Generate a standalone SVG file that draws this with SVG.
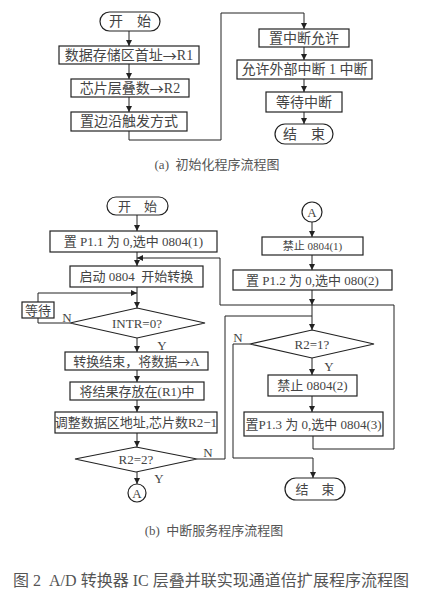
<svg xmlns="http://www.w3.org/2000/svg" width="423" height="603" viewBox="0 0 423 603">
<style>
.box{fill:#fff;stroke:#222;stroke-width:1.2}
.ln{fill:none;stroke:#222;stroke-width:1}
.t{font-family:"Liberation Serif","Noto Sans CJK SC",serif;fill:#444;text-anchor:middle;dominant-baseline:central;white-space:pre}
.s14{font-size:14px}
.s13{font-size:13px}
.s11{font-size:11px}
.arw{font-family:"Noto Sans CJK SC",sans-serif}
.cap{font-family:"Liberation Serif","Noto Sans CJK SC",serif;fill:#555;text-anchor:middle;dominant-baseline:central;white-space:pre}
</style>
<defs>
<marker id="ar" viewBox="0 0 8 8" refX="8" refY="4" markerWidth="6" markerHeight="6" orient="auto" markerUnits="userSpaceOnUse">
<path d="M0,0 L8,4 L0,8 Z" fill="#222"/>
</marker>
</defs>
<rect width="423" height="603" fill="#fff"/>
<g id="connectors">
<line class="ln" x1="129" y1="31" x2="129" y2="46" marker-end="url(#ar)"/>
<line class="ln" x1="129" y1="64" x2="129" y2="79" marker-end="url(#ar)"/>
<line class="ln" x1="129" y1="97" x2="129" y2="112" marker-end="url(#ar)"/>
<polyline class="ln" points="129,131 129,140 221,140 221,13 304,13 304,29" marker-end="url(#ar)"/>
<line class="ln" x1="304" y1="47" x2="304" y2="60" marker-end="url(#ar)"/>
<line class="ln" x1="304" y1="79" x2="304" y2="92" marker-end="url(#ar)"/>
<line class="ln" x1="304" y1="112" x2="304" y2="124" marker-end="url(#ar)"/>
<line class="ln" x1="137" y1="215" x2="137" y2="231" marker-end="url(#ar)"/>
<line class="ln" x1="137" y1="252" x2="137" y2="266" marker-end="url(#ar)"/>
<polyline class="ln" points="313,436 313,449 394,449 394,305 220,305 220,258 137,258" marker-end="url(#ar)"/>
<line class="ln" x1="137" y1="287" x2="137" y2="308" marker-end="url(#ar)"/>
<polyline class="ln" points="70,323 38,323 38,318"/>
<polyline class="ln" points="38,302 38,293 137,293" marker-end="url(#ar)"/>
<line class="ln" x1="137" y1="338" x2="137" y2="352" marker-end="url(#ar)"/>
<line class="ln" x1="137" y1="370" x2="137" y2="382" marker-end="url(#ar)"/>
<line class="ln" x1="137" y1="400" x2="137" y2="412" marker-end="url(#ar)"/>
<line class="ln" x1="137" y1="433" x2="137" y2="447" marker-end="url(#ar)"/>
<line class="ln" x1="137" y1="472" x2="137" y2="484" marker-end="url(#ar)"/>
<polyline class="ln" points="197,459 225,459 225,316 312,316"/>
<line class="ln" x1="312" y1="222" x2="312" y2="237" marker-end="url(#ar)"/>
<line class="ln" x1="312" y1="255" x2="312" y2="270" marker-end="url(#ar)"/>
<line class="ln" x1="312" y1="290" x2="312" y2="305" marker-end="url(#ar)"/>
<line class="ln" x1="312" y1="305" x2="312" y2="330" marker-end="url(#ar)"/>
<line class="ln" x1="312" y1="358" x2="312" y2="375" marker-end="url(#ar)"/>
<line class="ln" x1="312" y1="396" x2="312" y2="412" marker-end="url(#ar)"/>
<polyline class="ln" points="250,344 233,344 233,458 313,458 313,478" marker-end="url(#ar)"/>
</g>
<g id="a-start"><rect class="box" x="100" y="12" width="60" height="19" rx="9.5"/><text class="t s14" x="130" y="21.5">开　始</text></g>
<g id="a-r1"><rect class="box" x="59" y="46" width="140" height="18"/><text class="t s14" x="129" y="55">数据存储区首址<tspan class="arw">→</tspan>R1</text></g>
<g id="a-r2"><rect class="box" x="71" y="79" width="118" height="18"/><text class="t s14" x="130" y="88">芯片层叠数<tspan class="arw">→</tspan>R2</text></g>
<g id="a-edge"><rect class="box" x="71" y="112" width="116" height="19"/><text class="t s14" x="129" y="121.5">置边沿触发方式</text></g>
<g id="a-int"><rect class="box" x="259" y="29" width="90" height="18"/><text class="t s14" x="304" y="38">置中断允许</text></g>
<g id="a-ext"><rect class="box" x="237" y="60" width="135" height="19"/><text class="t s14" x="304.5" y="69.5">允许外部中断 1 中断</text></g>
<g id="a-wait"><rect class="box" x="266" y="92" width="76" height="20"/><text class="t s14" x="304" y="102">等待中断</text></g>
<g id="a-end"><rect class="box" x="275" y="124" width="58" height="20" rx="10"/><text class="t s14" x="304" y="134">结　束</text></g>
<text class="cap s13" x="217" y="164">(a)  初始化程序流程图</text>

<g id="b-start"><rect class="box" x="107" y="197" width="61" height="18" rx="9"/><text class="t s13" x="137.5" y="206">开　始</text></g>
<g id="b-p11"><rect class="box" x="50" y="231" width="167" height="21"/><text class="t s13" x="133.5" y="241.5">置 P1.1 为 0,选中 0804(1)</text></g>
<g id="b-start0804"><rect class="box" x="70" y="266" width="133" height="21"/><text class="t s13" x="136.5" y="276.5">启动 0804  开始转换</text></g>
<g id="b-wait"><rect class="box" x="22" y="302" width="32" height="16"/><text class="t s13" x="38" y="310">等待</text></g>
<g id="b-intr"><polygon class="box" points="137,308 205,323 137,338 70,323"/><text class="t s13" x="137" y="323">INTR=0?</text></g>
<text class="t s13" x="67" y="317">N</text>
<text class="t s13" x="162" y="345">Y</text>
<g id="b-toA"><rect class="box" x="65" y="352" width="143" height="18"/><text class="t s13" x="136.5" y="361">转换结束，将数据<tspan class="arw">→</tspan>A</text></g>
<g id="b-store"><rect class="box" x="70" y="382" width="134" height="18"/><text class="t s13" x="137" y="391">将结果存放在(R1)中</text></g>
<g id="b-adjust"><rect class="box" x="55" y="412" width="162" height="21"/><text class="t s13" x="136" y="422.5">调整数据区地址,芯片数R2−1</text></g>
<g id="b-r22"><polygon class="box" points="136,447 197,459 136,472 75,459"/><text class="t s13" x="136" y="459.5">R2=2?</text></g>
<text class="t s13" x="208" y="452">N</text>
<text class="t s13" x="159" y="478">Y</text>
<g id="b-A1"><circle class="box" cx="137" cy="493" r="9"/><text class="t s13" x="137" y="493">A</text></g>

<g id="b-A2"><circle class="box" cx="312" cy="212" r="10"/><text class="t s13" x="312" y="212">A</text></g>
<g id="b-dis1"><rect class="box" x="262" y="237" width="101" height="18"/><text class="t s11" x="312.5" y="246">禁止 0804(1)</text></g>
<g id="b-p12"><rect class="box" x="233" y="270" width="159" height="20"/><text class="t s13" x="312.5" y="280">置 P1.2 为 0,选中 080(2)</text></g>
<g id="b-r21"><polygon class="box" points="312,330 374,344 312,358 250,344"/><text class="t s13" x="312" y="344.5">R2=1?</text></g>
<text class="t s13" x="238" y="337">N</text>
<text class="t s13" x="329" y="366">Y</text>
<g id="b-dis2"><rect class="box" x="268" y="375" width="89" height="21"/><text class="t s13" x="312.5" y="385.5">禁止 0804(2)</text></g>
<g id="b-p13"><rect class="box" x="244" y="412" width="139" height="24"/><text class="t s13" x="313.5" y="424">置P1.3 为 0,选中 0804(3)</text></g>
<g id="b-end"><rect class="box" x="285" y="478" width="60" height="22" rx="11"/><text class="t s13" x="315" y="489">结　束</text></g>
<text class="cap s13" x="214" y="530">(b)  中断服务程序流程图</text>
<text class="cap" style="font-size:16px" x="211" y="580" textLength="396" lengthAdjust="spacingAndGlyphs">图 2  A/D 转换器 IC 层叠并联实现通道倍扩展程序流程图</text>
</svg>
